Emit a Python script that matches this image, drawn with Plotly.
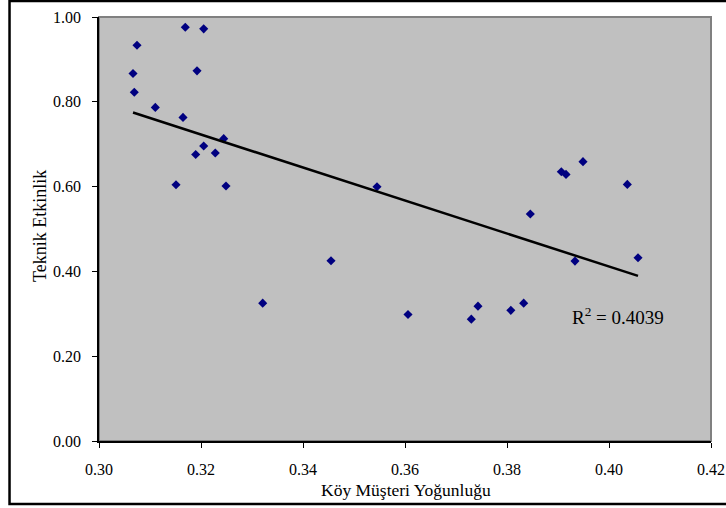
import numpy as np
import plotly.graph_objects as go

# Köy Müşteri Yoğunluğu (x) and Teknik Etkinlik (y)
x_vals = [0.31692, 0.32053, 0.30745, 0.30667, 0.31922, 0.30692, 0.31104, 0.31647,
          0.32445, 0.32053, 0.31896, 0.32280, 0.31510, 0.32490, 0.33210, 0.34549,
          0.35451, 0.36059, 0.37431, 0.37300, 0.38075, 0.38327, 0.39490, 0.39065,
          0.39157, 0.40359, 0.38457, 0.39333, 0.40569]
y_vals = [0.9759, 0.9721, 0.9334, 0.8666, 0.8730, 0.8224, 0.7868, 0.7632,
          0.7131, 0.6959, 0.6758, 0.6793, 0.6045, 0.6014, 0.3251, 0.4250,
          0.5998, 0.2982, 0.3181, 0.2874, 0.3081, 0.3251, 0.6588, 0.6352,
          0.6288, 0.6052, 0.5353, 0.4243, 0.4321]

x_ticks = [0.30, 0.32, 0.34, 0.36, 0.38, 0.40, 0.42]
y_ticks = [0.00, 0.20, 0.40, 0.60, 0.80, 1.00]
r2_label = "R<sup>2</sup> = 0.4039"
x_title = "Köy Müşteri Yoğunluğu"
y_title = "Teknik Etkinlik"

# linear trend line
slope, intercept = np.polyfit(x_vals, y_vals, 1)
tx = [min(x_vals), max(x_vals)]
ty = [slope * v + intercept for v in tx]

FONT = "Liberation Serif, Times New Roman, serif"

fig = go.Figure()
fig.add_trace(go.Scatter(x=x_vals, y=y_vals, mode="markers",
                         marker=dict(symbol="diamond", size=7, color="#000080",
                                     line=dict(width=0)),
                         showlegend=False, hoverinfo="x+y"))
fig.add_trace(go.Scatter(x=tx, y=ty, mode="lines",
                         line=dict(color="black", width=2.5),
                         showlegend=False, hoverinfo="skip"))

fig.add_annotation(x=0.4018, y=0.295, xref="x", yref="y", text=r2_label,
                   showarrow=False, font=dict(family=FONT, size=19, color="black"))

# axis titles
fig.add_annotation(x=0.5016, y=-0.1156, xref="paper", yref="paper", text=x_title,
                   showarrow=False, xanchor="center", yanchor="middle",
                   font=dict(family=FONT, size=17.5, color="black"))
fig.add_annotation(x=-0.0964, y=0.507, xref="paper", yref="paper", text=y_title,
                   showarrow=False, xanchor="center", yanchor="middle", textangle=-90,
                   font=dict(family=FONT, size=18, color="black"))

# plot-area border (gray) and outer chart border (black)
fig.add_shape(type="rect", xref="paper", yref="paper", x0=0, y0=0, x1=1, y1=1,
              line=dict(color="#808080", width=2), layer="below")
fig.add_shape(type="rect", xref="paper", yref="paper",
              x0=-0.1462, y0=-0.1486, x1=1.039, y1=1.0377,
              line=dict(color="black", width=2.5))

fig.update_layout(
    width=726, height=508,
    margin=dict(l=99, r=15, t=17, b=67, autoexpand=False),
    paper_bgcolor="white",
    plot_bgcolor="#C0C0C0",
    font=dict(family=FONT, size=16, color="black"),
    xaxis=dict(range=[0.30, 0.42], tickvals=x_ticks,
               ticktext=[f"{v:.2f}" for v in x_ticks],
               showgrid=False, zeroline=False, showline=True, automargin=False,
               linecolor="black", linewidth=1.5,
               ticks="outside", ticklen=5, tickcolor="black", tickwidth=1,
               ticklabelstandoff=8),
    yaxis=dict(range=[0.0, 1.0], tickvals=y_ticks,
               ticktext=[f"{v:.2f}" for v in y_ticks],
               showgrid=False, zeroline=False, showline=True, automargin=False,
               linecolor="black", linewidth=1.5,
               ticks="outside", ticklen=5, tickcolor="black", tickwidth=1,
               ticklabelstandoff=8),
)

fig.write_html("out.html")
